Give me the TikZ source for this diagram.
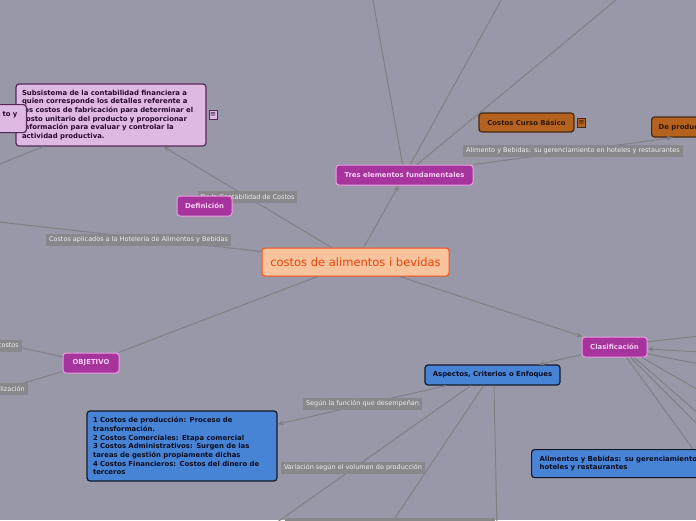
\documentclass[tikz,border=0pt]{standalone}
\usepackage{fontspec}
\setmainfont{DejaVu Sans}
\usetikzlibrary{arrows.meta, calc}

\definecolor{fondo}{RGB}{152,152,168}
\definecolor{linea}{RGB}{128,128,132}
\definecolor{etiq}{RGB}{136,136,140}
\definecolor{etiqtexto}{RGB}{238,238,238}
\definecolor{magfondo}{RGB}{166,52,156}
\definecolor{magborde}{RGB}{236,160,228}
\definecolor{magtexto}{RGB}{248,206,244}
\definecolor{raizfondo}{RGB}{247,196,158}
\definecolor{raizborde}{RGB}{255,78,20}
\definecolor{raiztexto}{RGB}{236,68,8}
\definecolor{lilafondo}{RGB}{222,186,226}
\definecolor{lilaborde}{RGB}{88,40,90}
\definecolor{lilatexto}{RGB}{40,10,45}
\definecolor{marronfondo}{RGB}{180,98,30}
\definecolor{marronborde}{RGB}{70,40,18}
\definecolor{marrontexto}{RGB}{45,22,8}
\definecolor{azulfondo}{RGB}{72,132,214}
\definecolor{azulborde}{RGB}{22,24,40}
\definecolor{azultexto}{RGB}{10,12,30}

\tikzset{
  conector/.style={draw=linea, line width=1pt},
  flecha/.style={conector, -{Stealth[length=6pt,width=5pt]}},
  etiqueta/.style={fill=etiq, text=etiqtexto, inner xsep=3pt, inner ysep=0pt,
    minimum height=12pt, font=\fontsize{6.5}{7}\selectfont},
  caja/.style={rounded corners=3pt, line width=1pt, inner sep=0pt, minimum height=20pt,
    font=\fontsize{6.9}{8.7}\selectfont\bfseries},
  tema/.style={caja, draw=magborde, fill=magfondo, text=magtexto},
  lila/.style={caja, draw=lilaborde, fill=lilafondo, text=lilatexto, line width=1.2pt},
  marron/.style={caja, draw=marronborde, fill=marronfondo, text=marrontexto, line width=1.2pt},
  azul/.style={caja, draw=azulborde, fill=azulfondo, text=azultexto, line width=1.2pt},
  raizcaja/.style={rounded corners=3pt, line width=1pt, draw=raizborde, fill=raizfondo,
    text=raiztexto, inner sep=0pt, minimum width=187pt, minimum height=28pt,
    font=\fontsize{11.5}{13}\selectfont},
  icono/.style={draw=#1, line width=0.6pt, inner sep=0pt, minimum width=8pt,
    minimum height=9pt, font=\fontsize{7}{7}\selectfont}
}

\begin{document}
\begin{tikzpicture}[x=1pt, y=-1pt]
\fill[fondo] (0,0) rectangle (696,520);
\useasboundingbox (0,0) rectangle (696,520);
\clip (0,0) rectangle (696,520);

% main nodes
\node[raizcaja] (raiz) at (355.5,262) {costos de alimentos i bevidas};
\node[tema, minimum width=137pt] (tres) at (404.5,175) {Tres elementos fundamentales};
\node[tema, minimum width=56pt] (objetivo) at (91,363) {OBJETIVO};
\node[tema, minimum width=65pt] (clasif) at (614.5,347) {Clasificación};

\node[lila, minimum width=190pt, minimum height=62pt, text width=178pt, inner xsep=6pt, align=left]
  (subsistema) at (111,115) {Subsistema de la contabilidad financiera a\\
  quien corresponde los detalles referente a\\
  los costos de fabricación para determinar el\\
  costo unitario del producto y proporcionar\\
  información para evaluar y controlar la\\
  actividad productiva.};
\node[icono=lilaborde, fill=lilafondo, text=lilatexto] (notasub) at (213,114.5) {≡};

\node[marron, minimum width=95pt, minimum height=19pt] (curso) at (526.5,122.5) {Costos Curso Básico};
\node[icono=marronborde, fill=marronfondo, text=marrontexto] (notacurso) at (581.5,122.5) {≡};
\node[marron, anchor=west, inner xsep=7pt] (deprod) at (651,127) {De producción};

\node[azul, minimum width=135pt] (aspectos) at (492.5,375) {Aspectos, Criterios o Enfoques};
\node[azul, minimum width=190pt, minimum height=70pt, text width=178pt, inner xsep=6pt, align=left]
  (tipos) at (182,446) {1 Costos de producción: Proceso de\\
  transformación.\\
  2 Costos Comerciales: Etapa comercial\\
  3 Costos Administrativos: Surgen de las\\
  tareas de gestión propiamente dichas\\
  4 Costos Financieros: Costos del dinero de\\
  terceros};
\node[azul, anchor=north west, minimum height=28pt, text width=200pt, inner xsep=8pt, align=left]
  (hoteles) at (531,449) {Alimentos y Bebidas: su gerenciamiento en\\hoteles y restaurantes};

% free ends
\coordinate (finizq) at (-10,168);
\coordinate (finhotel) at (-10,221);
\coordinate (arriba1) at (372,-5);
\coordinate (arriba2) at (504,-5);
\coordinate (arriba3) at (622,-5);
\coordinate (objizq1) at (-10,341);
\coordinate (objizq2) at (-10,393);
\coordinate (der1) at (700,336);
\coordinate (der2) at (700,352);
\coordinate (der3) at (700,364);
\coordinate (der4) at (700,391);
\coordinate (der5) at (700,415);
\coordinate (der6) at (700,427);
\coordinate (abajo1) at (266,530);
\coordinate (abajo2) at (387,530);
\coordinate (abajo3) at (497,530);

% connectors
\draw[flecha] (raiz) -- (subsistema);
\draw[conector] (subsistema.-155.5) -- (finizq);
\draw[conector] (raiz) -- (finhotel);
\draw[flecha] (raiz) -- (tres);
\draw[conector] (tres) -- (arriba1);
\draw[conector] (tres) -- (arriba2);
\draw[conector] (tres) -- (arriba3);
\draw[flecha] (tres.north east) -- ($(deprod.south west)+(22,0)$);
\draw[conector] (raiz) -- (objetivo);
\draw[conector] (objetivo) -- (objizq1);
\draw[conector] (objetivo) -- (objizq2);
\draw[flecha] (raiz) -- (clasif);
\draw[conector] (clasif.9) -- (der1);
\draw[flecha] (der2) -- (clasif);
\draw[conector] (clasif.-12) -- (der3);
\draw[conector] (clasif.-21) -- (der4);
\draw[conector] (clasif.-28) -- (der5);
\draw[conector] (clasif.-33) -- (der6);
\draw[conector] (clasif.-41) -- ($(hoteles.north west)+(162,0)$);
\draw[flecha] (clasif) -- (aspectos);
\draw[flecha] (aspectos) -- (tipos);
\draw[conector] (aspectos.-154) -- (abajo1);
\draw[conector] (aspectos.-130) -- (abajo2);
\draw[conector] (aspectos.-82) -- (abajo3);

% labels
\node[etiqueta] (lcont) at (247.5,197) {De la Contabilidad de Costos};
\node[etiqueta] (lhotel) at (138.5,239.5) {Costos aplicados a la Hotelería de Alimentos y Bebidas};
\node[etiqueta] (lalim) at (573,151) {Alimento y Bebidas: su gerenciamiento en hoteles y restaurantes};
\node[etiqueta, anchor=east] (lcostos) at (22,345.5) {costos};
\node[etiqueta, anchor=east] (lutil) at (28,389) {lización};
\node[etiqueta] (lfuncion) at (362.5,404) {Según la función que desempeñan};
\node[etiqueta] (lvolumen) at (353,468) {Variación según el volumen de producción};
\fill[etiq] (285,518) rectangle (495,530);

% nodes on top
\node[tema, minimum width=55pt] (definicion) at (204.5,206) {Definición};
\node[lila, anchor=north east, minimum height=28pt, text width=60pt, inner xsep=9pt, align=right]
  (concepto) at (27,104) {to y\\\phantom{x}};
\end{tikzpicture}
\end{document}
